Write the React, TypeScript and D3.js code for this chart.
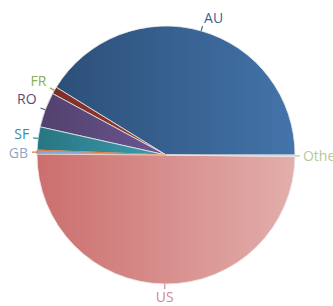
import React, { useEffect, useRef } from "react";
import * as d3 from "d3";

// slices, counter-clockwise from 3 o'clock
const labels = ["AU", "FR", "RO", "SF", "GB", "US", "Other"];
const values = [41.2, 0.9, 4.4, 2.9, 0.5, 49.9, 0.2];
const darkColors = ["#2c4f78", "#7d2e25", "#52406d", "#277582", "#7fa6d8", "#cb6f6e", "#a9c08a"];
const lightColors = ["#4374aa", "#9c4033", "#6b5793", "#3f9db0", "#9cc0ea", "#e3aeab", "#c5d6a8"];
const textColors = ["#3d6494", "#8aad5a", "#5c4a7d", "#3a8d9c", "#8fa6c8", "#d08a8a", "#b5c99a"];
const lineColors = ["#3d6494", "#8aad5a", "#5c4a7d", "#3a8d9c", "#e07b39", "#d08a8a", "#b5c99a"];
// small vertical nudges of the labels (px)
const labelNudge = [0, -3, -6, -3, 1, 0, 0];

const width = 333;
const height = 306;
const cx = 166;
const cy = 155;
const radius = 129;

export default function App() {
  const ref = useRef<SVGSVGElement>(null);

  useEffect(() => {
    const svg = d3.select(ref.current);
    svg.selectAll("*").remove();

    const defs = svg.append("defs");
    labels.forEach((l, i) => {
      const g = defs.append("linearGradient")
        .attr("id", "grad" + i)
        .attr("x1", 0).attr("y1", 0)
        .attr("x2", 1).attr("y2", 0);
      g.append("stop").attr("offset", "0%").attr("stop-color", darkColors[i]);
      g.append("stop").attr("offset", "100%").attr("stop-color", lightColors[i]);
    });

    const pie = d3.pie<number>()
      .sort(null)
      .startAngle(Math.PI / 2)
      .endAngle(Math.PI / 2 - 2 * Math.PI);

    const arcs = pie(values);
    const arc = d3.arc<d3.PieArcDatum<number>>().innerRadius(0).outerRadius(radius);

    const g = svg.append("g").attr("transform", "translate(" + cx + "," + cy + ")");

    g.selectAll("path.slice")
      .data(arcs)
      .enter()
      .append("path")
      .attr("class", "slice")
      .attr("d", arc)
      .attr("fill", (d, i) => "url(#grad" + i + ")")
      .attr("stroke", (d, i) => (labels[i] === "GB" ? "#e07b39" : "#e8e8e8"))
      .attr("stroke-width", (d, i) => (labels[i] === "GB" ? 1 : 0.8))
      .attr("stroke-linejoin", "round");

    // labels with short connectors
    arcs.forEach((d, i) => {
      const mid = (d.startAngle + d.endAngle) / 2; // d3 angle: 0 at top, clockwise
      const sx = Math.sin(mid);
      const sy = -Math.cos(mid);
      const r1 = radius;
      const r2 = radius + 5;
      const r3 = radius + 7;

      g.append("line")
        .attr("x1", sx * r1).attr("y1", sy * r1)
        .attr("x2", sx * r2).attr("y2", sy * r2)
        .attr("stroke", lineColors[i])
        .attr("stroke-width", 1.2);

      const anchor = sx > 0.05 ? "start" : sx < -0.05 ? "end" : "middle";
      const tx = sx * r3 + (sx > 0.05 ? 1 : sx < -0.05 ? -2 : 0);
      const ty = sy * r3 + sy * 6 + 5 + labelNudge[i];

      g.append("text")
        .attr("x", tx)
        .attr("y", ty)
        .attr("text-anchor", anchor)
        .style("font", "14px 'Open Sans', sans-serif")
        .attr("fill", textColors[i])
        .text(labels[i]);
    });
  }, []);

  return (
    <div style={{ position: "absolute", left: 0, top: 0 }}>
      <svg ref={ref} width={width} height={height} style={{ display: "block", background: "#fff" }} />
    </div>
  );
}
